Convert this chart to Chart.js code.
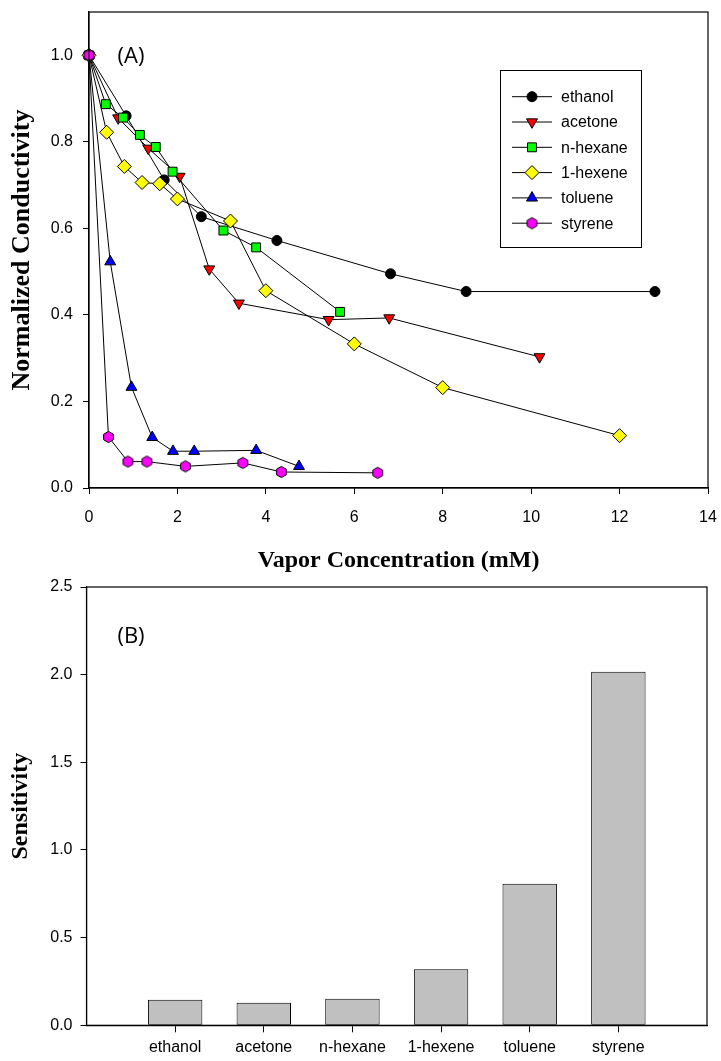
<!DOCTYPE html>
<html>
<head>
<meta charset="utf-8">
<script src="https://cdn.jsdelivr.net/npm/chart.js@4.4.0/dist/chart.umd.min.js"></script>
<style>
html,body{margin:0;padding:0;background:#fff;}
#chartA{position:absolute;left:0;top:0;}
#chartB{position:absolute;left:0;top:575px;}
</style>
</head>
<body>
<canvas id="chartA" width="721" height="575"></canvas>
<canvas id="chartB" width="721" height="486"></canvas>
<script>
// panel A data (vapor concentration mM vs normalized conductivity)
const seriesNames = ['ethanol', 'acetone', 'n-hexane', '1-hexene', 'toluene', 'styrene'];
const ethanolX = [0, 0.84, 1.70, 2.54, 4.25, 6.82, 8.53, 12.8];
const ethanolY = [1.0, 0.86, 0.712, 0.627, 0.572, 0.495, 0.454, 0.454];
const acetoneX = [0, 0.66, 1.34, 2.05, 2.72, 3.39, 5.42, 6.79, 10.19];
const acetoneY = [1.0, 0.855, 0.785, 0.72, 0.506, 0.427, 0.389, 0.393, 0.303];
const hexaneX = [0, 0.38, 0.77, 1.15, 1.51, 1.89, 3.04, 3.78, 5.68];
const hexaneY = [1.0, 0.887, 0.856, 0.816, 0.788, 0.731, 0.595, 0.556, 0.407];
const hexeneX = [0, 0.4, 0.8, 1.2, 1.6, 2.0, 3.2, 4.0, 6.0, 8.0, 12.0];
const hexeneY = [1.0, 0.822, 0.743, 0.706, 0.703, 0.668, 0.617, 0.456, 0.333, 0.232, 0.121];
const tolueneX = [0, 0.48, 0.96, 1.43, 1.90, 2.38, 3.78, 4.75];
const tolueneY = [1.0, 0.523, 0.233, 0.117, 0.085, 0.085, 0.087, 0.050];
const styreneX = [0, 0.44, 0.88, 1.31, 2.18, 3.48, 4.35, 6.53];
const styreneY = [1.0, 0.118, 0.061, 0.061, 0.050, 0.058, 0.037, 0.035];
const xTicksA = [0, 2, 4, 6, 8, 10, 12, 14];
const yTicksA = [0, 0.2, 0.4, 0.6, 0.8, 1.0];

// panel B data
const sensCats = ['ethanol', 'acetone', 'n-hexane', '1-hexene', 'toluene', 'styrene'];
const sensValues = [0.146, 0.129, 0.152, 0.319, 0.807, 2.017];
const yTicksB = [0, 0.5, 1.0, 1.5, 2.0, 2.5];

const sans = 'Liberation Sans, Arial, sans-serif';
const serif = 'Liberation Serif, Times New Roman, serif';

// hexagon marker (vertex up) drawn on a small canvas
function makeHexagon(color) {
  const c = document.createElement('canvas');
  c.width = 13; c.height = 14;
  const g = c.getContext('2d');
  const cx = 6.5, cy = 7, r = 5.6;
  g.beginPath();
  for (let k = 0; k < 6; k++) {
    const a = -Math.PI / 2 + k * Math.PI / 3;
    const px = cx + r * Math.cos(a), py = cy + r * Math.sin(a);
    if (k === 0) g.moveTo(px, py); else g.lineTo(px, py);
  }
  g.closePath();
  g.fillStyle = color; g.fill();
  g.lineWidth = 1; g.strokeStyle = '#000'; g.stroke();
  return c;
}

function pts(xs, ys) { return xs.map((x, i) => ({x: x, y: ys[i]})); }

// no extra label padding, so the plot box sits where the reference has it
function fixBox(size, isX) {
  return s => {
    if (isX) s.height = size; else s.width = size;
    s.paddingLeft = 0; s.paddingRight = 0; s.paddingTop = 0; s.paddingBottom = 0;
  };
}

const markerStyles = [
  {style: 'circle', rot: 0, r: 5, fill: '#000000'},
  {style: 'triangle', rot: 180, r: 6.3, fill: '#ff0000'},
  {style: 'rect', rot: 0, r: 6.3, fill: '#00ff00'},
  {style: 'rectRot', rot: 0, r: 7, fill: '#ffff00'},
  {style: 'triangle', rot: 0, r: 6.3, fill: '#0000ff'},
  {style: makeHexagon('#ff00ff'), rot: 0, r: 6, fill: '#ff00ff'}
];
const seriesData = [
  pts(ethanolX, ethanolY), pts(acetoneX, acetoneY), pts(hexaneX, hexaneY),
  pts(hexeneX, hexeneY), pts(tolueneX, tolueneY), pts(styreneX, styreneY)
];

const frame = {
  id: 'frame',
  afterDraw(chart) {
    const a = chart.chartArea, ctx = chart.ctx;
    ctx.save();
    ctx.strokeStyle = '#000'; ctx.lineWidth = 1.2;
    ctx.strokeRect(a.left, a.top, a.right - a.left, a.bottom - a.top);
    ctx.restore();
  }
};

function panelLabel(text, dx, dy) {
  return {
    id: 'label' + text,
    afterDraw(chart) {
      const ctx = chart.ctx, a = chart.chartArea;
      ctx.save();
      ctx.font = '22px "Open Sans", sans-serif';
      ctx.fillStyle = '#000';
      ctx.textAlign = 'center'; ctx.textBaseline = 'middle';
      ctx.fillText(text, a.left + dx, a.top + dy);
      ctx.restore();
    }
  };
}

// boxed legend inside the plot
const boxLegend = {
  id: 'boxLegend',
  afterDraw(chart) {
    const ctx = chart.ctx;
    ctx.save();
    ctx.fillStyle = '#fff';
    ctx.fillRect(500.5, 70.5, 141, 177);
    ctx.strokeStyle = '#000'; ctx.lineWidth = 1;
    ctx.strokeRect(500.5, 70.5, 141, 177);
    chart.data.datasets.forEach((ds, i) => {
      const y = 96.7 + i * 25.3;
      ctx.beginPath();
      ctx.moveTo(512, y); ctx.lineTo(552, y);
      ctx.strokeStyle = '#000'; ctx.lineWidth = 1; ctx.stroke();
      ctx.fillStyle = ds.pointBackgroundColor;
      ctx.strokeStyle = '#000';
      Chart.helpers.drawPoint(ctx, {pointStyle: ds.pointStyle, rotation: ds.pointRotation, radius: ds.pointRadius, borderWidth: 1}, 532, y);
      ctx.fillStyle = '#000';
      ctx.font = '16px ' + sans;
      ctx.textAlign = 'left'; ctx.textBaseline = 'middle';
      ctx.fillText(ds.label, 561, y + 1);
    });
    ctx.restore();
  }
};

const chartA = new Chart(document.getElementById('chartA'), {
  type: 'line',
  data: {
    datasets: seriesNames.map((name, i) => ({
      label: name,
      data: seriesData[i],
      borderColor: '#000',
      borderWidth: 1,
      tension: 0,
      pointStyle: markerStyles[i].style,
      pointRotation: markerStyles[i].rot,
      pointRadius: markerStyles[i].r,
      pointHoverRadius: markerStyles[i].r,
      pointBackgroundColor: markerStyles[i].fill,
      pointBorderColor: '#000',
      pointBorderWidth: 1,
      clip: false,
      order: seriesNames.length - i
    }))
  },
  options: {
    responsive: false,
    animation: false,
    events: [],
    layout: {padding: {top: 12, right: 13, left: 0, bottom: 0}},
    plugins: {legend: {display: false}, tooltip: {enabled: false}},
    scales: {
      x: {
        type: 'linear', min: 0, max: 14,
        afterFit: fixBox(87, true),
        afterBuildTicks: s => { s.ticks = xTicksA.map(v => ({value: v})); },
        grid: {drawOnChartArea: false, tickLength: 6, color: '#000', lineWidth: 1},
        border: {color: '#000', width: 1.2},
        ticks: {font: {family: sans, size: 16}, color: '#000', padding: 14, maxRotation: 0, autoSkip: false},
        title: {display: true, text: 'Vapor Concentration (mM)', color: '#000',
                font: {family: serif, size: 24, weight: 'bold'}, padding: {top: 0, bottom: 0}}
      },
      y: {
        type: 'linear', min: 0, max: 1.1,
        afterFit: fixBox(89, false),
        afterBuildTicks: s => { s.ticks = yTicksA.map(v => ({value: v})); },
        grid: {drawOnChartArea: false, tickLength: 6, color: '#000', lineWidth: 1},
        border: {color: '#000', width: 1.2},
        ticks: {font: {family: sans, size: 16}, color: '#000', padding: 10,
                callback: v => v.toFixed(1)},
        title: {display: true, text: 'Normalized Conductivity', color: '#000',
                font: {family: serif, size: 26, weight: 'bold'}, padding: {top: 7, bottom: 0}}
      }
    }
  },
  plugins: [frame, panelLabel('(A)', 42, 45), boxLegend]
});

const chartB = new Chart(document.getElementById('chartB'), {
  type: 'bar',
  data: {
    datasets: [{
      data: sensCats.map((c, i) => ({x: i + 1, y: sensValues[i]})),
      backgroundColor: '#c0c0c0',
      borderColor: '#000',
      borderWidth: 1,
      borderSkipped: false,
      barPercentage: 0.614,
      categoryPercentage: 1
    }]
  },
  options: {
    responsive: false,
    animation: false,
    events: [],
    layout: {padding: {top: 12, right: 14, left: 0, bottom: 0}},
    plugins: {legend: {display: false}, tooltip: {enabled: false}},
    scales: {
      x: {
        type: 'linear', min: 0, max: 7, offset: false,
        afterFit: fixBox(35.7, true),
        afterBuildTicks: s => { s.ticks = sensCats.map((c, i) => ({value: i + 1})); },
        grid: {drawOnChartArea: false, tickLength: 7, color: '#000', lineWidth: 1, offset: false},
        border: {color: '#000', width: 1.2},
        ticks: {font: {family: sans, size: 16}, color: '#000', padding: 6, maxRotation: 0, autoSkip: false,
                callback: v => sensCats[v - 1]}
      },
      y: {
        type: 'linear', min: 0, max: 2.5,
        afterFit: fixBox(86.5, false),
        afterBuildTicks: s => { s.ticks = yTicksB.map(v => ({value: v})); },
        grid: {drawOnChartArea: false, tickLength: 6, color: '#000', lineWidth: 1},
        border: {color: '#000', width: 1.2},
        ticks: {font: {family: sans, size: 16}, color: '#000', padding: 8,
                callback: v => v.toFixed(1)},
        title: {display: true, text: 'Sensitivity', color: '#000',
                font: {family: serif, size: 24, weight: 'bold'}, padding: {top: 6, bottom: 0}}
      }
    }
  },
  plugins: [frame, panelLabel('(B)', 44.5, 49.5)]
});
</script>
</body>
</html>
